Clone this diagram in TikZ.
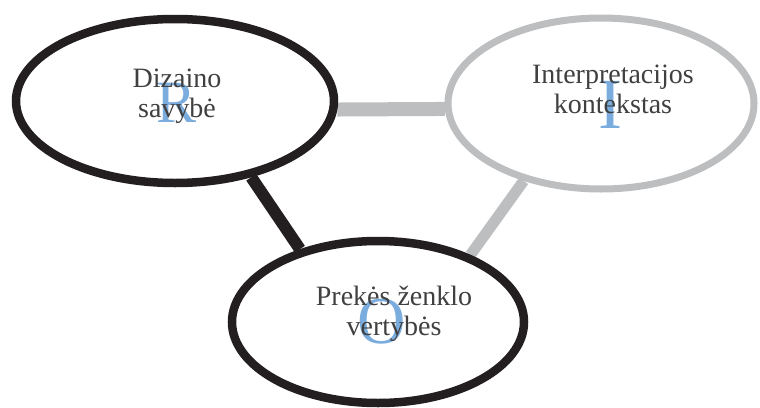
\documentclass[tikz,border=0pt]{standalone}
\usepackage{fontspec}
\setmainfont{Liberation Serif}
\usetikzlibrary{shapes.geometric}
\definecolor{ringblack}{RGB}{35,31,32}
\definecolor{ringgray}{RGB}{189,190,192}
\definecolor{letterblue}{RGB}{122,172,222}
\definecolor{textgray}{RGB}{64,64,64}
\pgfdeclarelayer{bg}
\pgfsetlayers{bg,main}
\begin{document}
\begin{tikzpicture}[x=1pt,y=-1pt,
  oval/.style={ellipse,fill=white,inner sep=0pt},
  blackoval/.style={oval,draw=ringblack,line width=8.5pt},
  grayoval/.style={oval,draw=ringgray,line width=7pt},
  bigletter/.style={text=letterblue,anchor=base,inner sep=0pt},
  label/.style={text=textgray,align=center,inner sep=0pt,font=\fontsize{28}{30}\selectfont}]
\useasboundingbox (0,0) rectangle (760,407);
% ellipses
\node[blackoval,minimum width=318pt,minimum height=164pt] (R) at (175,101) {};
\node[grayoval,minimum width=306pt,minimum height=171pt] (I) at (601,103.5) {};
\node[blackoval,minimum width=292pt,minimum height=162pt] (O) at (378,322) {};
% connectors behind the ellipses
\begin{pgfonlayer}{bg}
\draw[ringgray,line width=14pt] (R.-3) -- (I.182);
\draw[ringblack,line width=12pt] (R.-45) -- (O.137);
\draw[ringgray,line width=11pt] (I.-135) -- (O.36);
\end{pgfonlayer}
% big letters
\node[bigletter,font=\fontsize{60}{60}\selectfont] (Rl) at (177,122) {R};
\node[bigletter,font=\fontsize{72}{72}\selectfont] (Il) at (610,128) {I};
\node[bigletter,font=\fontsize{67}{67}\selectfont] (Ol) at (382,343) {O};
% labels
\node[label] (Rt) at (177,96) {Dizaino\\savybė};
\node[label] (It) at (613,89) {Interpretacijos\\kontekstas};
\node[label] (Ot) at (394,313.5) {Prekės ženklo\\vertybės};
\end{tikzpicture}
\end{document}
